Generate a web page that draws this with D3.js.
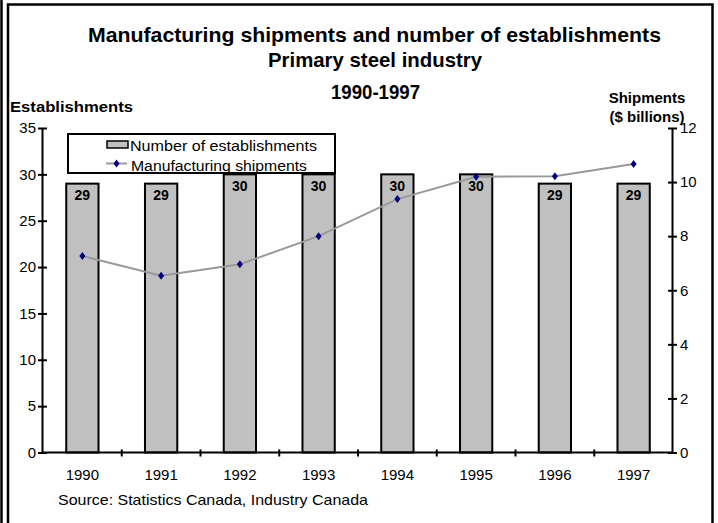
<!DOCTYPE html>
<html>
<head>
<meta charset="utf-8">
<script src="https://cdn.jsdelivr.net/npm/d3@7/dist/d3.min.js"></script>
<style>
  html, body { margin: 0; padding: 0; background: #fff; }
  svg { display: block; }
  text { font-family: "Liberation Sans", Arial, Helvetica, sans-serif; fill: #000; }
</style>
</head>
<body>
<svg id="chart" width="718" height="523"></svg>
<script>
// Primary steel industry, 1990-1997
const years = ["1990", "1991", "1992", "1993", "1994", "1995", "1996", "1997"];
const establishments = [29, 29, 30, 30, 30, 30, 29, 29];
const shipments = [7.27, 6.54, 6.96, 8.0, 9.37, 10.2, 10.22, 10.67]; // $ billions
const leftTicks = [0, 5, 10, 15, 20, 25, 30, 35];
const rightTicks = [0, 2, 4, 6, 8, 10, 12];

const svg = d3.select("#chart");

// Frame
svg.append("line").attr("x1", 1.5).attr("x2", 1.5).attr("y1", 0).attr("y2", 523)
  .attr("stroke", "#000").attr("stroke-width", 2.5);
svg.append("path").attr("d", "M8,523V4.5H712.5V523").attr("fill", "none")
  .attr("stroke", "#000").attr("stroke-width", 2.5);

// Titles
const title = svg.append("g").attr("font-weight", "bold").attr("text-anchor", "middle");
title.append("text").attr("x", 374.5).attr("y", 42).attr("font-size", 21)
  .attr("textLength", 573).attr("lengthAdjust", "spacingAndGlyphs")
  .text("Manufacturing shipments and number of establishments");
title.append("text").attr("x", 375).attr("y", 67).attr("font-size", 21)
  .attr("textLength", 214).attr("lengthAdjust", "spacingAndGlyphs")
  .text("Primary steel industry");
title.append("text").attr("x", 375.5).attr("y", 99).attr("font-size", 20)
  .attr("textLength", 89).attr("lengthAdjust", "spacingAndGlyphs")
  .text("1990-1997");

svg.append("text").attr("x", 10).attr("y", 112).attr("font-size", 15.5).attr("font-weight", "bold")
  .attr("textLength", 123).attr("lengthAdjust", "spacingAndGlyphs")
  .text("Establishments");
svg.append("text").attr("x", 647).attr("y", 103).attr("font-size", 15).attr("font-weight", "bold")
  .attr("text-anchor", "middle").text("Shipments");
svg.append("text").attr("x", 647).attr("y", 122).attr("font-size", 15).attr("font-weight", "bold")
  .attr("text-anchor", "middle").text("($ billions)");

// Scales
const x = d3.scaleBand().domain(years).range([43, 673]).paddingInner(0.59).paddingOuter(0.295);
const yL = d3.scaleLinear().domain([0, 35]).range([452.5, 128]);
const yR = d3.scaleLinear().domain([0, 12]).range([452.5, 128]);

// Bars
svg.append("g").selectAll("rect").data(years).join("rect")
  .attr("x", d => x(d))
  .attr("y", (d, i) => yL(establishments[i]))
  .attr("width", x.bandwidth())
  .attr("height", (d, i) => yL(0) - yL(establishments[i]))
  .attr("fill", "#c0c0c0").attr("stroke", "#000").attr("stroke-width", 2);

svg.append("g").attr("font-weight", "bold").attr("font-size", 14).attr("text-anchor", "middle")
  .selectAll("text").data(years).join("text")
  .attr("x", d => x(d) + x.bandwidth() / 2)
  .attr("y", (d, i) => yL(establishments[i]) + 16.5)
  .text((d, i) => establishments[i]);

// Axes
const fontSize = 15;
function styleAxis(g) {
  g.select(".domain").attr("stroke", "#000").attr("stroke-width", 2);
  g.selectAll(".tick line").attr("stroke", "#000").attr("stroke-width", 2);
  g.selectAll(".tick text").attr("font-size", fontSize).attr("font-family", null);
}

const axL = svg.append("g").attr("transform", "translate(42,0)")
  .call(d3.axisLeft(yL).tickValues(leftTicks).tickSizeInner(4).tickSizeOuter(0).tickPadding(2));
styleAxis(axL);
axL.selectAll(".tick line").attr("x1", 5).attr("x2", -4);

const axR = svg.append("g").attr("transform", "translate(672,0)")
  .call(d3.axisRight(yR).tickValues(rightTicks).tickSizeInner(4).tickSizeOuter(0).tickPadding(4));
styleAxis(axR);
axR.selectAll(".tick line").attr("x1", -4).attr("x2", 5);

const axB = svg.append("g").attr("transform", "translate(0,452.5)")
  .call(d3.axisBottom(x).tickSize(0).tickSizeOuter(0).tickPadding(17));
styleAxis(axB);
axB.select(".domain").attr("d", "M42,0H672");
// category separators between bars
const gap = (x.step() - x.bandwidth()) / 2;
axB.selectAll(".sep").data(years.slice(1)).join("line").attr("class", "sep")
  .attr("x1", d => x(d) - gap).attr("x2", d => x(d) - gap)
  .attr("y1", -3).attr("y2", 4).attr("stroke", "#000").attr("stroke-width", 2);

// Shipments line
const line = d3.line().x((d, i) => x(years[i]) + x.bandwidth() / 2).y(d => yR(d));
svg.append("path").datum(shipments).attr("d", line)
  .attr("fill", "none").attr("stroke", "#999999").attr("stroke-width", 2);
const diamond = "M0,-4L3,0L0,4L-3,0Z";
svg.append("g").selectAll("path").data(shipments).join("path")
  .attr("transform", (d, i) => `translate(${x(years[i]) + x.bandwidth() / 2},${yR(d)})`)
  .attr("d", diamond).attr("fill", "#000080");

// Legend
const lg = svg.append("g");
lg.append("rect").attr("x", 68).attr("y", 134).attr("width", 267).attr("height", 39)
  .attr("fill", "#fff").attr("stroke", "#000").attr("stroke-width", 2);
lg.append("rect").attr("x", 107).attr("y", 141).attr("width", 21).attr("height", 7)
  .attr("fill", "#c0c0c0").attr("stroke", "#000").attr("stroke-width", 1.5);
lg.append("text").attr("x", 130).attr("y", 150.5).attr("font-size", 15.5)
  .attr("textLength", 187).attr("lengthAdjust", "spacingAndGlyphs")
  .text("Number of establishments");
lg.append("line").attr("x1", 106).attr("x2", 127).attr("y1", 163.5).attr("y2", 163.5)
  .attr("stroke", "#999999").attr("stroke-width", 2);
lg.append("path").attr("transform", "translate(116.5,163.5)").attr("d", diamond).attr("fill", "#000080");
lg.append("text").attr("x", 131).attr("y", 170.5).attr("font-size", 15.5)
  .attr("textLength", 176).attr("lengthAdjust", "spacingAndGlyphs")
  .text("Manufacturing shipments");

// Source note
svg.append("text").attr("x", 58).attr("y", 505).attr("font-size", 15)
  .attr("textLength", 310).attr("lengthAdjust", "spacingAndGlyphs")
  .text("Source: Statistics Canada, Industry Canada");
</script>
</body>
</html>
